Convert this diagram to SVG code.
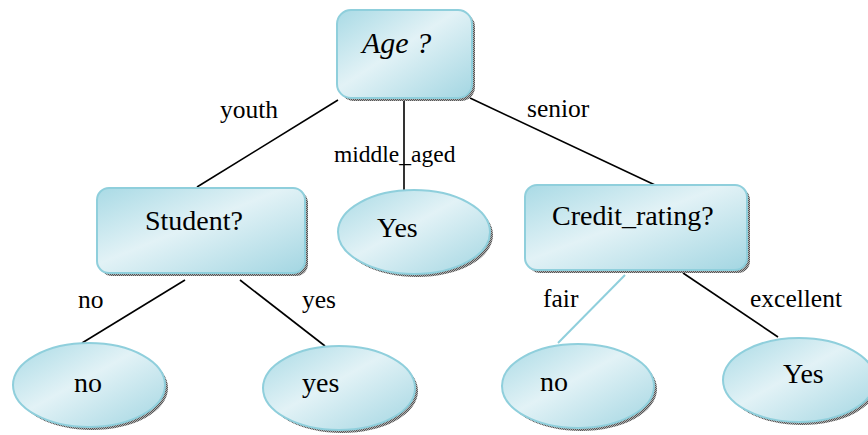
<svg xmlns="http://www.w3.org/2000/svg" width="868" height="435" viewBox="0 0 868 435">
<defs>
<linearGradient id="g" x1="0" y1="0" x2="1" y2="1">
<stop offset="0" stop-color="#a9dae5"/>
<stop offset="0.45" stop-color="#e2f2f6"/>
<stop offset="1" stop-color="#a3d6e2"/>
</linearGradient>
<pattern id="dots" width="2" height="2" patternUnits="userSpaceOnUse">
<rect width="2" height="2" fill="#b0b0b0"/>
<rect width="1" height="1" fill="#555"/>
<rect x="1" y="1" width="1" height="1" fill="#555"/>
</pattern>
</defs>
<style>
.box{fill:url(#g);stroke:#8fcfdc;stroke-width:2}
.sh{fill:url(#dots)}
.edge{stroke:#000;stroke-width:1.6;fill:none}
.edge2{stroke:#8fcfdc;stroke-width:2;fill:none}
text{font-family:'Liberation Serif','Times New Roman',serif;fill:#000}
.nl{font-size:28px}
.el{font-size:25.5px}
</style>
<g id="connectors">
<line class="edge" x1="338" y1="100" x2="197" y2="187"/>
<line class="edge" x1="404" y1="101" x2="404" y2="191"/>
<line class="edge" x1="470" y1="98" x2="655" y2="185"/>
<line class="edge" x1="185" y1="280" x2="82" y2="343"/>
<line class="edge" x1="240" y1="280" x2="325" y2="346"/>
<line class="edge2" x1="625" y1="275" x2="558" y2="343"/>
<line class="edge" x1="683" y1="273" x2="778" y2="337"/>
<text class="el" x="220" y="118">youth</text>
<text class="el" x="334" y="162" style="font-size:23.5px">middle_aged</text>
<text class="el" x="527" y="117">senior</text>
<text class="el" x="78" y="308">no</text>
<text class="el" x="302" y="308">yes</text>
<text class="el" x="543" y="307">fair</text>
<text class="el" x="750" y="307">excellent</text>
</g>
<g id="age">
<rect class="sh" x="340" y="13" width="135" height="88" rx="14"/>
<rect class="box" x="337" y="10" width="135" height="88" rx="14"/>
<text class="nl" x="362" y="53" style="font-style:italic;font-size:30px">Age ?</text>
</g>
<g id="student">
<rect class="sh" x="100" y="191" width="208" height="85" rx="12"/>
<rect class="box" x="97" y="188" width="208" height="85" rx="12"/>
<text class="nl" x="145" y="230">Student?</text>
</g>
<g id="yes-middle">
<ellipse class="sh" cx="417" cy="235" rx="76" ry="42"/>
<ellipse class="box" cx="414" cy="232" rx="76" ry="42"/>
<text class="nl" x="377" y="237">Yes</text>
</g>
<g id="credit">
<rect class="sh" x="528" y="188" width="222" height="85" rx="12"/>
<rect class="box" x="525" y="185" width="222" height="85" rx="12"/>
<text class="nl" x="552" y="225">Credit_rating?</text>
</g>
<g id="no-left">
<ellipse class="sh" cx="92" cy="388" rx="76" ry="42"/>
<ellipse class="box" cx="89" cy="385" rx="76" ry="42"/>
<text class="nl" x="74" y="392">no</text>
</g>
<g id="yes-left">
<ellipse class="sh" cx="342" cy="391" rx="76" ry="42"/>
<ellipse class="box" cx="339" cy="388" rx="76" ry="42"/>
<text class="nl" x="302" y="392">yes</text>
</g>
<g id="no-right">
<ellipse class="sh" cx="581" cy="389" rx="76" ry="42"/>
<ellipse class="box" cx="578" cy="386" rx="76" ry="42"/>
<text class="nl" x="540" y="391">no</text>
</g>
<g id="yes-right">
<ellipse class="sh" cx="802" cy="383" rx="76" ry="42"/>
<ellipse class="box" cx="799" cy="380" rx="76" ry="42"/>
<text class="nl" x="783" y="383">Yes</text>
</g>
</svg>
